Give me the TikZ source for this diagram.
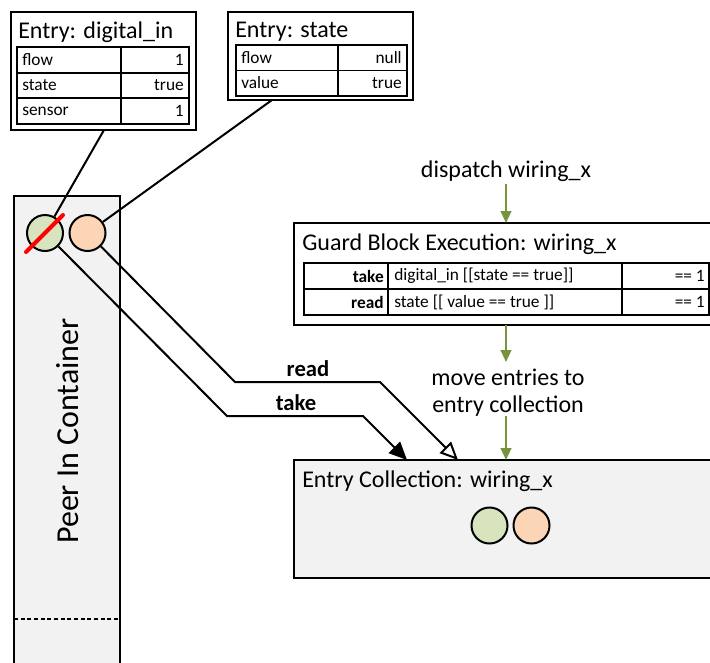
\documentclass[tikz,border=0pt]{standalone}
\usepackage{fontspec}
\setmainfont{Carlito}
\usetikzlibrary{arrows.meta}
\definecolor{boxgray}{HTML}{F2F2F2}
\definecolor{tokgreen}{HTML}{D7E4BD}
\definecolor{tokpeach}{HTML}{FBD5B5}
\definecolor{flowolive}{HTML}{77933C}
\begin{document}
\begin{tikzpicture}[x=0.75pt,y=-0.75pt,
  frame/.style={draw=black,line width=2.2pt},
  grid/.style={draw=black,line width=1.3pt},
  wire/.style={draw=black,line width=1.5pt},
  token/.style={circle,draw=black,line width=1.5pt,minimum size=27pt,inner sep=0pt},
  title/.style={anchor=base west,inner sep=0pt,font=\fontsize{18}{21}\selectfont},
  big/.style={inner sep=0pt,font=\fontsize{18}{21}\selectfont},
  cellL/.style={anchor=west,inner sep=0pt,font=\fontsize{13}{15}\selectfont},
  cellR/.style={anchor=east,inner sep=0pt,font=\fontsize{13}{15}\selectfont},
  gcellL/.style={anchor=west,inner sep=0pt,font=\fontsize{13}{15}\selectfont},
  gcellR/.style={anchor=east,inner sep=0pt,font=\fontsize{13}{15}\selectfont},
  gkey/.style={gcellR,font=\bfseries\fontsize{13}{15}\selectfont},
  flow/.style={draw=flowolive,line width=1.5pt,-{Triangle[length=9pt,width=8pt]}},
  edgelabel/.style={inner sep=0pt,font=\bfseries\fontsize{17}{19}\selectfont},
]
\useasboundingbox (0,0) rectangle (710,662);
\clip (0,0) rectangle (710,662);

% ---- Peer In Container (runs off the bottom) ----
\draw[line width=2.2pt,fill=boxgray] (14,196) rectangle (120,700);
\draw[line width=1.5pt,dash pattern=on 3pt off 2pt] (14,619) -- (120,619);
\node[inner sep=0pt,rotate=90,font=\fontsize{24}{28}\selectfont] (peerlabel) at (68,431) {Peer In Container};

% ---- Entry: digital_in ----
\draw[frame,fill=white] (11,12) rectangle (196,130);
\node[title] (dintitle) at (18,38) {Entry: digital\_in};
\draw[grid] (17,47) rectangle (189,124);
\draw[grid] (17,72.7) -- (189,72.7) (17,98.3) -- (189,98.3) (121,47) -- (121,124);
\node[cellL] (din1k) at (22,60) {flow};
\node[cellR] (din1v) at (184,60) {1};
\node[cellL] (din2k) at (22,85.5) {state};
\node[cellR] (din2v) at (184,85.5) {true};
\node[cellL] (din3k) at (22,111) {sensor};
\node[cellR] (din3v) at (184,111) {1};
\coordinate (dinfoot) at (104,130);

% ---- Entry: state ----
\draw[frame,fill=white] (228,12) rectangle (413,100);
\node[title] (sttitle) at (235,37) {Entry: state};
\draw[grid] (236,45) rectangle (407,96);
\draw[grid] (236,70.5) -- (407,70.5) (338,45) -- (338,96);
\node[cellL] (st1k) at (241,58) {flow};
\node[cellR] (st1v) at (402,58) {null};
\node[cellL] (st2k) at (241,83) {value};
\node[cellR] (st2v) at (402,83) {true};
\coordinate (stfoot) at (272,100);

% ---- tokens in the container ----
\node[token,fill=tokgreen] (gc) at (45,233) {};
\node[token,fill=tokpeach] (pc) at (87.5,233) {};

% ---- lines from entries to their tokens ----
\draw[wire] (dinfoot) -- (gc);
\draw[wire] (stfoot) -- (pc);

% ---- Guard Block Execution ----
\node[big] (dispatch) at (506,171) {dispatch wiring\_x};
\draw[frame,fill=white] (294,223) rectangle (720,325);
\node[title] (guardtitle) at (302,250) {Guard Block Execution: wiring\_x};
\draw[grid] (304,263) rectangle (709,315);
\draw[grid] (304,289) -- (709,289) (388,263) -- (388,315) (622,263) -- (622,315);
\node[gkey] (g1a) at (384,276) {take};
\node[gcellL] (g1b) at (394,276) {digital\_in [[state == true]]};
\node[gcellR] (g1c) at (705,276) {== 1};
\node[gkey] (g2a) at (384,302) {read};
\node[gcellL] (g2b) at (394,302) {state [[ value == true ]]};
\node[gcellR] (g2c) at (705,302) {== 1};
\coordinate (guardtop) at (506,223);
\coordinate (guardbot) at (506,325);

% ---- Entry Collection ----
\draw[frame,fill=boxgray] (294,460) rectangle (720,578);
\node[title] (colltitle) at (302,487) {Entry Collection: wiring\_x};
\node[token,fill=tokgreen] (cg) at (489.5,525.5) {};
\node[token,fill=tokpeach] (cp) at (531.5,525.5) {};
\coordinate (colltop) at (506,460);

% ---- control flow arrows ----
\node[big,anchor=base] (move1) at (508,385) {move entries to};
\node[big,anchor=base] (move2) at (508,412) {entry collection};
\coordinate (dispfoot) at (506,184);
\coordinate (movetop) at (506,362);
\coordinate (movefoot) at (506,416);
\draw[flow] (dispfoot) -- (guardtop);
\draw[flow] (guardbot) -- (movetop);
\draw[flow] (movefoot) -- (colltop);

% ---- take / read connectors ----
\coordinate (takeA) at (227,416);
\coordinate (takeB) at (363,416);
\coordinate (takeEnd) at (407,460);
\coordinate (readA) at (235,382);
\coordinate (readB) at (380,382);
\coordinate (readEnd) at (458,460);
\draw[wire,-{Triangle[length=13.5pt,width=12pt]}] (gc.south east) -- (takeA) -- (takeB) -- (takeEnd);
\draw[wire,-{Triangle[open,length=13.5pt,width=12pt,fill=white]}] (pc.south east) -- (readA) -- (readB) -- (readEnd);
\node[edgelabel] (readlbl) at (308,369) {read};
\node[edgelabel] (takelbl) at (296,403) {take};

% ---- red strike through the consumed token ----
\draw[red,line width=3pt,line cap=round] (26,252) -- (63,215);
\end{tikzpicture}
\end{document}
